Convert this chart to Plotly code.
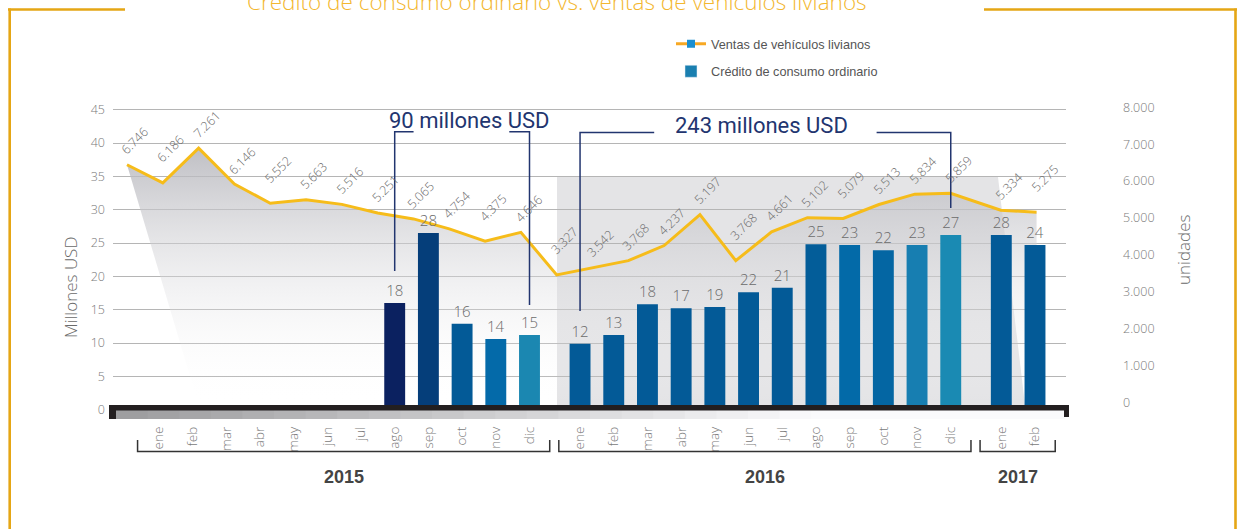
import plotly.graph_objects as go

W, H = 1237, 529
PL, PR, PT, PB = 113, 1066, 100, 422   # plot area in pixels

# ---------------- data ----------------
meses = ["ene", "feb", "mar", "abr", "may", "jun", "jul", "ago", "sep", "oct", "nov", "dic",
         "ene", "feb", "mar", "abr", "may", "jun", "jul", "ago", "sep", "oct", "nov", "dic",
         "ene", "feb"]
anios = [2015] * 12 + [2016] * 12 + [2017] * 2

ventas = [6746, 6186, 7261, 6146, 5552, 5663, 5516, 5251, 5065, 4754, 4375, 4646,
          3327, 3542, 3768, 4237, 5197, 3768, 4661, 5102, 5079, 5513, 5834, 5859,
          5334, 5275]

credito_etiqueta = [None] * 7 + [18, 28, 16, 14, 15,
                                 12, 13, 18, 17, 19, 22, 21, 25, 23, 22, 23, 27,
                                 28, 24]
credito_barra = [None] * 7 + [16.0, 26.5, 12.9, 10.6, 11.2,
                              9.9, 11.2, 15.8, 15.2, 15.4, 17.6, 18.3, 24.8, 24.7, 23.9, 24.7, 26.2,
                              26.2, 24.7]
colores_barra = [None] * 7 + ["#0b2160", "#053e7a", "#035a97", "#046aa9", "#1b87b1",
                              "#035a97", "#035a97", "#035a97", "#035a97", "#035a97", "#035a97", "#035a97",
                              "#035d99", "#036aa8", "#0466a3", "#177eb1", "#1a8ab3",
                              "#035a97", "#035a97"]

anios_unicos = [2015, 2016, 2017]
# ---------------- layout helpers ----------------
ORDEN = ["ene", "feb", "mar", "abr", "may", "jun", "jul", "ago", "sep", "oct", "nov", "dic"]
desfase_barras = {2015: 0.0, 2016: 12.5, 2017: 25.0}
desfase_linea = {2015: 0.0, 2016: 12.0, 2017: 24.4}
pos_barra = [desfase_barras[a] + ORDEN.index(m) for a, m in zip(anios, meses)]
pos_linea = [desfase_linea[a] + ORDEN.index(m) for a, m in zip(anios, meses)]


def px_x(px):
    return (px - PL) / (PR - PL)


def px_y(py):
    return (PB - py) / (PB - PT)


# axis scales (pixel of zero, pixels per unit)
XL0, XLS = 127.0, 35.81      # line x
XB0, XBS = 158.8, 33.7       # bar x
YL0, YLS = 382.0, 0.0322     # line y
YB0, YBS = 409.7, 6.667      # bars y (left)
YR0, YRS = 402.3, 0.036875   # right ticks


def xr(p0, s):
    return [(PL - p0) / s, (PR - p0) / s]


def yr(p0, s):
    return [(p0 - PB) / s, (p0 - PT) / s]


LIGHT = "Open Sans"

fig = go.Figure()

# gray fill under the sales line
base_linea = (YL0 - 405) / YLS
fig.add_trace(go.Scatter(
    x=pos_linea + [pos_linea[-1], pos_linea[0] + 2.0],
    y=ventas + [base_linea, base_linea],
    mode="none", fill="toself",
    fillgradient=dict(type="vertical",
                      colorscale=[[0, "rgba(255,255,255,0)"], [1, "rgba(180,180,186,0.85)"]],
                      start=base_linea, stop=max(ventas)),
    showlegend=False, hoverinfo="skip", xaxis="x", yaxis="y"))

# sales line
fig.add_trace(go.Scatter(
    x=pos_linea, y=ventas, mode="lines",
    line=dict(color="#F6BC1A", width=3),
    showlegend=False, xaxis="x", yaxis="y"))

# legend-only entries
fig.add_trace(go.Scatter(
    x=[None], y=[None], mode="lines+markers", name="Ventas de vehículos livianos",
    line=dict(color="#F7A823", width=3),
    marker=dict(symbol="square", size=8, color="#1b8fd0"),
    legendrank=1, legendgroup="a", xaxis="x", yaxis="y"))
fig.add_trace(go.Bar(
    x=[None], y=[None], name="Crédito de consumo ordinario",
    marker=dict(color="#1a7fb0"),
    legendrank=2, legendgroup="b", xaxis="x", yaxis="y"))

# bars
bx = [p for p, v in zip(pos_barra, credito_barra) if v is not None]
by = [v for v in credito_barra if v is not None]
bt = [str(v) for v in credito_etiqueta if v is not None]
bc = [c for c in colores_barra if c is not None]
fig.add_trace(go.Bar(
    x=bx, y=by, width=0.62, marker=dict(color=bc, line=dict(width=0)),
    text=bt, textposition="outside", cliponaxis=False,
    textfont=dict(family=LIGHT, size=15, color="#6b6b6b", weight=300),
    showlegend=False, xaxis="x2", yaxis="y2"))

# dummy trace for right axis
fig.add_trace(go.Scatter(x=[None], y=[None], showlegend=False, xaxis="x2", yaxis="y3"))

shapes = []
annotations = []


def nota(x, y, text, font, xref="paper", yref="paper", **kw):
    d = dict(x=x, y=y, xref=xref, yref=yref, text=text, showarrow=False,
             xanchor="center", yanchor="middle", font=font)
    d.update(kw)
    annotations.append(d)


# 2016 background panel
shapes.append(dict(type="path", layer="below", xref="paper", yref="paper",
                   path=f"M {px_x(557)} {px_y(177)} L {px_x(998)} {px_y(177)} "
                        f"L {px_x(1025)} {px_y(405)} L {px_x(557)} {px_y(405)} Z",
                   fillcolor="#e4e4e6", line=dict(width=0)))

# gray band under base
n = 30
for i in range(n):
    x0 = 116 + (1064 - 116) * i / n
    x1 = 116 + (1064 - 116) * (i + 1) / n
    t = (x0 - 116) / (1064 - 116)
    g = int(158 + (250 - 158) * min(1.0, t * 1.4))
    shapes.append(dict(type="rect", xref="paper", yref="paper",
                       x0=px_x(x0), x1=px_x(x1) + 0.001, y0=px_y(419), y1=px_y(410),
                       fillcolor=f"rgb({g},{g},{g+2})", line=dict(width=0), layer="above"))
# black base bar
shapes.append(dict(type="rect", xref="paper", yref="paper", x0=px_x(109), x1=px_x(1069),
                   y0=px_y(410.5), y1=px_y(405), fillcolor="#231f20", line=dict(width=0)))
shapes.append(dict(type="rect", xref="paper", yref="paper", x0=px_x(109), x1=px_x(116),
                   y0=px_y(419), y1=px_y(405), fillcolor="#231f20", line=dict(width=0)))
shapes.append(dict(type="rect", xref="paper", yref="paper", x0=px_x(1064), x1=px_x(1069),
                   y0=px_y(417), y1=px_y(405), fillcolor="#231f20", line=dict(width=0)))

# year brackets and labels
for a in anios_unicos:
    ps = [p for p, aa in zip(pos_barra, anios) if aa == a]
    x0, x1 = ps[0] - 0.63, ps[-1] + 0.6
    shapes.append(dict(type="path", xref="x2", yref="paper",
                       path=f"M {x0} {px_y(440)} L {x0} {px_y(451.5)} L {x1} {px_y(451.5)} L {x1} {px_y(440)}",
                       line=dict(color="#333333", width=1.5)))
    nota((x0 + x1) / 2, px_y(477), str(a),
         dict(family="Liberation Sans Narrow, Liberation Sans", size=18, color="#444444", weight="bold"),
         xref="x2")

# sum brackets
NAVY = "#22356f"


def bracket(i0, i1, ybar, yl, yr_, gap0, gap1):
    xa, xb = pos_barra[i0], pos_barra[i1]
    shapes.append(dict(type="path", xref="x2", yref="paper",
                       path=f"M {xa} {px_y(yl)} L {xa} {px_y(ybar)} L {xa + gap0} {px_y(ybar)}",
                       line=dict(color=NAVY, width=1.5)))
    shapes.append(dict(type="path", xref="x2", yref="paper",
                       path=f"M {xb - gap1} {px_y(ybar)} L {xb} {px_y(ybar)} L {xb} {px_y(yr_)}",
                       line=dict(color=NAVY, width=1.5)))


bracket(7, 11, 131.7, 271, 305, 0.56, 0.6)
bracket(12, 23, 132.5, 311, 208, 2.2, 2.2)
nota(px_x(469), px_y(121), "90 millones USD", dict(family="Roboto", size=22, color=NAVY))
nota(px_x(761), px_y(125), "243 millones USD", dict(family="Roboto", size=22, color=NAVY))

# line value labels
for i, (p, v) in enumerate(zip(pos_linea, ventas)):
    prev_v = ventas[i - 1] if i > 0 else v + 1
    next_v = ventas[i + 1] if i < len(ventas) - 1 else v + 1
    minimo = v < prev_v and v < next_v
    nota(p, v, f"{v:,}".replace(",", "."),
         dict(family=LIGHT, size=12.5, color="#6a6a6a", weight=300),
         xref="x", yref="y", textangle=-45, xshift=8, yshift=34 if minimo else 24)

# axis titles
nota(px_x(70), px_y(288), "Millones USD", dict(family=LIGHT, size=17, color="#6a6a6a", weight=300),
     textangle=-90)
nota(px_x(1183), px_y(250), "unidades", dict(family=LIGHT, size=17, color="#6a6a6a", weight=300),
     textangle=-90)

# title
nota(px_x(557), px_y(1), "Crédito de consumo ordinario vs. ventas de vehículos livianos",
     dict(family=LIGHT, size=22.5, color="#F3B730", weight=300))

# frame
ORANGE = "#E5A615"
for (xa, ya, xb, yb) in [(8, 9.5, 125, 9.5), (9.7, 8.5, 9.7, 540),
                         (984, 9.5, 1237, 9.5), (1235.5, 8.5, 1235.5, 540)]:
    shapes.append(dict(type="line", xref="paper", yref="paper",
                       x0=px_x(xa), y0=px_y(ya), x1=px_x(xb), y1=px_y(yb),
                       line=dict(color=ORANGE, width=2.6)))

tick_font = dict(family=LIGHT, size=12.5, color="#7a7a7a", weight=300)

fig.update_layout(
    width=W, height=H, autosize=False,
    margin=dict(l=PL, r=W - PR, t=PT, b=H - PB, pad=0),
    paper_bgcolor="white", plot_bgcolor="rgba(0,0,0,0)",
    separators=",.",
    barmode="overlay",
    showlegend=True,
    legend=dict(x=px_x(671), y=px_y(29), xanchor="left", yanchor="top",
                traceorder="grouped", tracegroupgap=8, bgcolor="rgba(0,0,0,0)",
                font=dict(family="Liberation Sans Narrow, Liberation Sans", size=12.7, color="#555555")),
    xaxis=dict(range=xr(XL0, XLS), visible=False, fixedrange=True),
    yaxis=dict(range=yr(YL0, YLS), visible=False, fixedrange=True),
    xaxis2=dict(overlaying="x", range=xr(XB0, XBS), anchor="y2", side="bottom",
                tickmode="array", tickvals=pos_barra, ticktext=meses, tickangle=-90,
                showgrid=False, zeroline=False, showline=False, ticks="",
                ticklabelstandoff=1, tickfont=dict(family=LIGHT, size=13.5, color="#7a7a7a", weight=300)),
    yaxis2=dict(overlaying="y", range=yr(YB0, YBS), anchor="x2", side="left",
                tick0=0, dtick=5, showgrid=True, gridcolor="#b5b5b5", gridwidth=1.3,
                zeroline=False, showline=False, ticks="", ticklabelstandoff=7, tickfont=tick_font),
    yaxis3=dict(overlaying="y", range=yr(YR0, YRS), anchor="x2", side="right",
                tickmode="array", tickvals=list(range(0, 8001, 1000)), tickformat=",d",
                showgrid=False, zeroline=False, showline=False, ticks="",
                ticklabelstandoff=56, tickfont=tick_font),
    shapes=shapes,
    annotations=annotations,
)

fig.write_html("out.html", config={"displayModeBar": False},
               post_script="document.body.style.margin='0';document.body.style.overflow='hidden';")
